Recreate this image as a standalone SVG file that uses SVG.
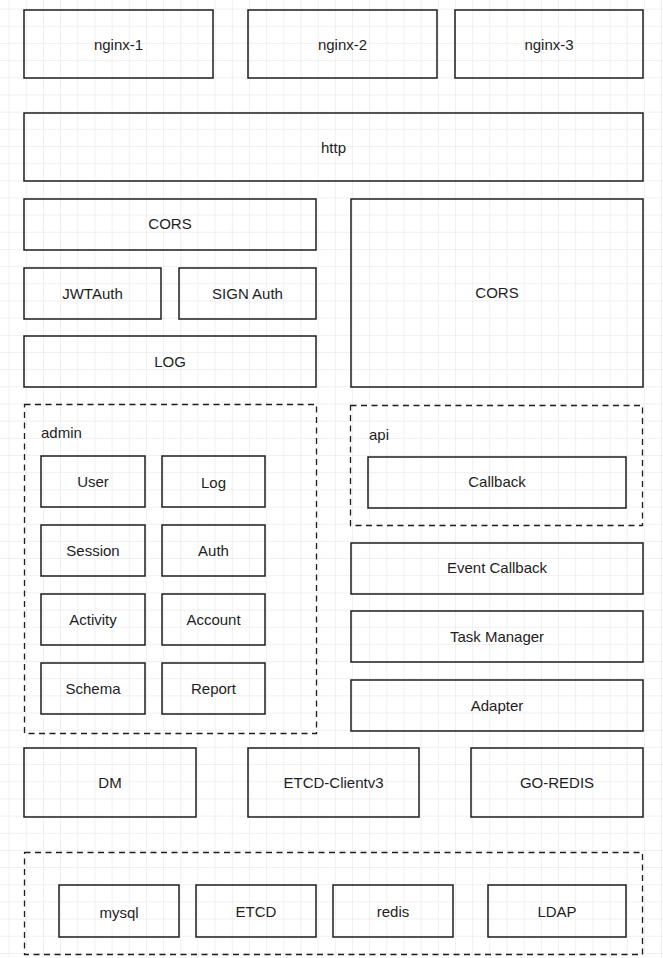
<svg xmlns="http://www.w3.org/2000/svg" width="663" height="958" viewBox="0 0 663 958">
<defs>
<pattern id="grid" x="8.6" y="8.6" width="17.17" height="17.17" patternUnits="userSpaceOnUse">
<path d="M0 0H17.17M0 0V17.17" fill="none" stroke="#e2e2e2" stroke-width="1"/>
</pattern>
<style>
.b{fill:none;stroke:#1e1e1e;stroke-width:1.5}
.d{fill:none;stroke:#1e1e1e;stroke-width:1.3;stroke-dasharray:6 4.5}
text{font-family:"Liberation Sans",Arial,sans-serif;font-size:15px;fill:#1e1e1e;text-anchor:middle;dominant-baseline:central}
.l{text-anchor:start}
</style>
</defs>
<rect width="663" height="958" fill="#fff"/>
<rect width="663" height="958" fill="url(#grid)"/>

<g id="nginx-1"><rect class="b" x="24" y="10" width="189" height="68"/><text x="118.5" y="44">nginx-1</text></g>
<g id="nginx-2"><rect class="b" x="248" y="10" width="189" height="68"/><text x="342.5" y="44">nginx-2</text></g>
<g id="nginx-3"><rect class="b" x="455" y="10" width="188" height="68"/><text x="549" y="44">nginx-3</text></g>
<g id="http"><rect class="b" x="24" y="113" width="619" height="68"/><text x="333.5" y="147">http</text></g>
<g id="cors-left"><rect class="b" x="24" y="199" width="292" height="51"/><text x="170" y="223">CORS</text></g>
<g id="jwtauth"><rect class="b" x="24" y="268" width="137" height="51"/><text x="92.5" y="293">JWTAuth</text></g>
<g id="signauth"><rect class="b" x="179" y="268" width="137" height="51"/><text x="247.5" y="293">SIGN Auth</text></g>
<g id="log-mw"><rect class="b" x="24" y="336" width="292" height="51"/><text x="170" y="361">LOG</text></g>
<g id="cors-right"><rect class="b" x="351" y="199" width="292" height="188"/><text x="497" y="292">CORS</text></g>

<g id="admin">
<rect class="d" x="24.5" y="404.5" width="292" height="329"/>
<text class="l" x="41" y="432">admin</text>
</g>
<g id="user"><rect class="b" x="41" y="456" width="104" height="51"/><text x="93" y="481">User</text></g>
<g id="log"><rect class="b" x="162" y="456" width="103" height="51"/><text x="213.5" y="482">Log</text></g>
<g id="session"><rect class="b" x="41" y="525" width="104" height="51"/><text x="93" y="550">Session</text></g>
<g id="auth"><rect class="b" x="162" y="525" width="103" height="51"/><text x="213.5" y="550">Auth</text></g>
<g id="activity"><rect class="b" x="41" y="594" width="104" height="51"/><text x="93" y="619">Activity</text></g>
<g id="account"><rect class="b" x="162" y="594" width="103" height="51"/><text x="213.5" y="619">Account</text></g>
<g id="schema"><rect class="b" x="41" y="663" width="104" height="51"/><text x="93" y="688">Schema</text></g>
<g id="report"><rect class="b" x="162" y="663" width="103" height="51"/><text x="213.5" y="688">Report</text></g>

<g id="api">
<rect class="d" x="350.5" y="405.5" width="292" height="120"/>
<text class="l" x="369" y="434">api</text>
</g>
<g id="callback"><rect class="b" x="368" y="457" width="258" height="51"/><text x="497" y="481">Callback</text></g>
<g id="event-callback"><rect class="b" x="351" y="543" width="292" height="51"/><text x="497" y="567">Event Callback</text></g>
<g id="task-manager"><rect class="b" x="351" y="611" width="292" height="51"/><text x="497" y="636">Task Manager</text></g>
<g id="adapter"><rect class="b" x="351" y="680" width="292" height="51"/><text x="497" y="705">Adapter</text></g>

<g id="dm"><rect class="b" x="24" y="748" width="172" height="69"/><text x="110" y="782">DM</text></g>
<g id="etcd-client"><rect class="b" x="248" y="748" width="171" height="69"/><text x="333.5" y="782">ETCD-Clientv3</text></g>
<g id="go-redis"><rect class="b" x="471" y="748" width="172" height="69"/><text x="557" y="782">GO-REDIS</text></g>

<g id="storage">
<rect class="d" x="24.5" y="852.5" width="618" height="102"/>
</g>
<g id="mysql"><rect class="b" x="59" y="885" width="120" height="52"/><text x="119" y="912">mysql</text></g>
<g id="etcd"><rect class="b" x="196" y="885" width="120" height="52"/><text x="256" y="911">ETCD</text></g>
<g id="redis"><rect class="b" x="333" y="885" width="120" height="52"/><text x="393" y="911">redis</text></g>
<g id="ldap"><rect class="b" x="488" y="885" width="138" height="52"/><text x="557" y="911">LDAP</text></g>

<g id="connectors"/>
</svg>
